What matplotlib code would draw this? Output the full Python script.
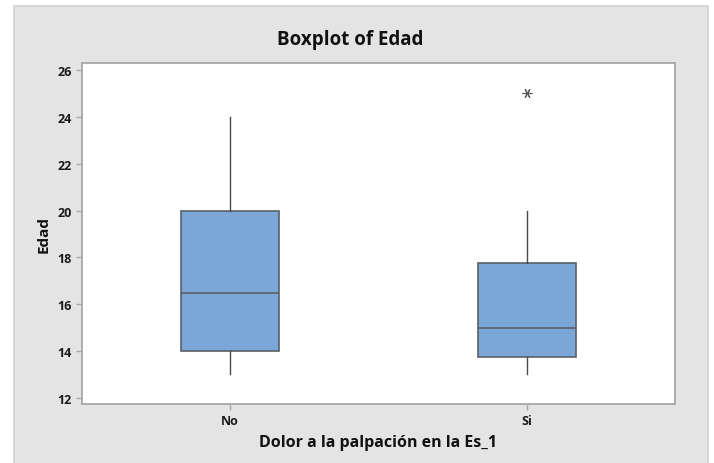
import matplotlib.pyplot as plt
from matplotlib.patches import Rectangle

# data
groups = ["No", "Si"]
q1 = [14.0, 13.75]
median = [16.5, 15.0]
q3 = [20.0, 17.75]
whis_lo = [13.0, 13.0]
whis_hi = [24.0, 20.0]
outliers = [[], [25.0]]

yticks = [12, 14, 16, 18, 20, 22, 24, 26]

plt.rcParams['font.family'] = ['Open Sans', 'DejaVu Sans']

fig = plt.figure(figsize=(7.14, 4.64), dpi=100)
fig.patch.set_facecolor("white")

# gray panel behind the plot
W, H = 714, 464
fig.patches.append(Rectangle((14 / W, -0.01), (708 - 14) / W, (H - 7) / H + 0.01,
                             transform=fig.transFigure, facecolor="#e4e4e4",
                             edgecolor="#d2d2d2", linewidth=1.2, zorder=-10))

ax = fig.add_axes([82 / W, 1 - 405 / H, (675 - 82) / W, (405 - 64) / H])
ax.set_zorder(1)
ax.set_facecolor("white")

stats = []
for i in range(len(groups)):
    stats.append(dict(label=groups[i], q1=q1[i], med=median[i], q3=q3[i],
                      whislo=whis_lo[i], whishi=whis_hi[i], fliers=outliers[i]))

edge = "#5a5f68"
ax.bxp(stats, positions=[1, 2], widths=0.33, patch_artist=True, showcaps=False,
       boxprops=dict(facecolor="#7ba7d8", edgecolor=edge, linewidth=1.2),
       medianprops=dict(color=edge, linewidth=1.2),
       whiskerprops=dict(color="#4a4a4a", linewidth=1.0),
       flierprops=dict(marker=(6, 2, 90), markersize=7, markeredgecolor="#555555",
                       markerfacecolor="none", markeredgewidth=0.8))

ax.set_xlim(0.5, 2.5)
ax.set_ylim(11.74, 26.3)
ax.set_yticks(yticks)
ax.set_xticks([1, 2])
ax.set_xticklabels(groups)

for sp in ax.spines.values():
    sp.set_color("#a8a8a8")
    sp.set_linewidth(1.3)
ax.tick_params(colors="#a8a8a8", length=4, width=1, labelcolor="#1a1a1a",
               labelsize=9)
for lab in ax.get_xticklabels() + ax.get_yticklabels():
    lab.set_fontweight("bold")

fig.text(350 / W, 1 - 40 / H, "Boxplot of Edad", ha="center", va="center",
         fontsize=13.5, fontweight="bold", color="#111111")
ax.set_xlabel("Dolor a la palpación en la Es_1", fontsize=11.5, fontweight="bold",
              color="#111111", labelpad=5)
ax.set_ylabel("Edad", fontsize=11, fontweight="bold", color="#111111", labelpad=5)

fig.savefig("out.png", dpi=100)
